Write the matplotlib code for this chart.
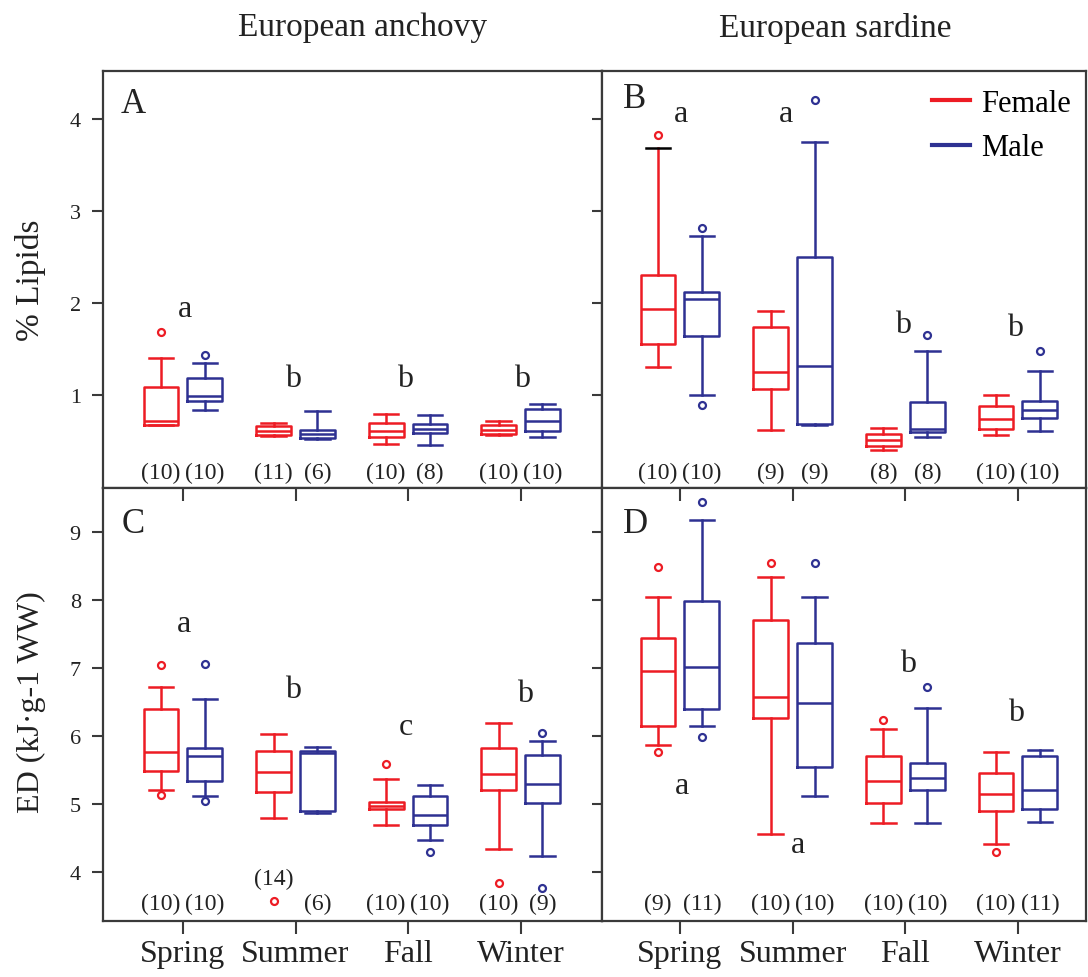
import numpy as np
import matplotlib
matplotlib.use('Agg')
import matplotlib.pyplot as plt
from matplotlib.lines import Line2D

plt.rcParams['font.family'] = ['Liberation Serif', 'DejaVu Serif']

# ---------------- data ----------------
seasons = ['Spring', 'Summer', 'Fall', 'Winter']

# five-number summaries per season: [whisker low, Q1, median, Q3, whisker high]
lipid_anchovy_female = [[0.67, 0.67, 0.72, 1.09, 1.40],
                        [0.55, 0.57, 0.61, 0.66, 0.70],
                        [0.47, 0.54, 0.61, 0.70, 0.79],
                        [0.56, 0.58, 0.62, 0.67, 0.72]]
lipid_anchovy_female_out = [[1.69], [], [], []]
lipid_anchovy_male = [[0.84, 0.93, 0.99, 1.18, 1.35],
                      [0.52, 0.53, 0.58, 0.62, 0.83],
                      [0.46, 0.59, 0.63, 0.68, 0.78],
                      [0.54, 0.61, 0.72, 0.85, 0.90]]
lipid_anchovy_male_out = [[1.43], [], [], []]

lipid_sardine_female = [[1.30, 1.555, 1.93, 2.30, 3.69],
                        [0.62, 1.06, 1.25, 1.74, 1.91],
                        [0.40, 0.45, 0.51, 0.58, 0.64],
                        [0.565, 0.63, 0.74, 0.88, 1.00]]
lipid_sardine_female_out = [[3.83], [], [], []]
lipid_sardine_male = [[1.00, 1.645, 2.04, 2.12, 2.73],
                      [0.67, 0.685, 1.31, 2.50, 3.75],
                      [0.54, 0.595, 0.63, 0.92, 1.48],
                      [0.61, 0.75, 0.84, 0.93, 1.26]]
lipid_sardine_male_out = [[2.82, 0.89], [4.21], [1.65], [1.48]]

ed_anchovy_female = [[5.20, 5.49, 5.77, 6.40, 6.72],
                     [4.79, 5.17, 5.47, 5.78, 6.03],
                     [4.69, 4.93, 4.97, 5.03, 5.37],
                     [4.34, 5.20, 5.44, 5.82, 6.19]]
ed_anchovy_female_out = [[7.04, 5.13], [3.58], [5.59], [3.84]]
ed_anchovy_male = [[5.12, 5.34, 5.70, 5.82, 6.55],
                   [4.87, 4.89, 5.75, 5.78, 5.84],
                   [4.47, 4.69, 4.84, 5.11, 5.28],
                   [4.24, 5.01, 5.30, 5.72, 5.92]]
ed_anchovy_male_out = [[7.06, 5.05], [], [4.30], [6.04, 3.77]]

ed_sardine_female = [[5.87, 6.14, 6.96, 7.44, 8.05],
                     [4.56, 6.27, 6.57, 7.70, 8.34],
                     [4.72, 5.01, 5.34, 5.71, 6.11],
                     [4.41, 4.89, 5.15, 5.45, 5.77]]
ed_sardine_female_out = [[8.48, 5.76], [8.54], [6.24], [4.29]]
ed_sardine_male = [[6.15, 6.40, 7.02, 7.99, 9.18],
                   [5.11, 5.55, 6.48, 7.37, 8.04],
                   [4.72, 5.21, 5.38, 5.60, 6.41],
                   [4.73, 4.92, 5.20, 5.70, 5.79]]
ed_sardine_male_out = [[9.44, 5.98], [8.54], [6.72], []]

# sample sizes
n_A_female = [10, 11, 10, 10]; n_A_male = [10, 6, 8, 10]
n_B_female = [10, 9, 8, 10];   n_B_male = [10, 9, 8, 10]
n_C_female = [10, 14, 10, 10]; n_C_male = [10, 6, 10, 9]
n_D_female = [9, 10, 10, 10];  n_D_male = [11, 10, 10, 11]

# significance letters and their heights
letters_A = ['a', 'b', 'b', 'b']; letters_A_y = [1.86, 1.10, 1.10, 1.10]
letters_B = ['a', 'a', 'b', 'b']; letters_B_y = [3.98, 3.98, 1.68, 1.65]
letters_C = ['a', 'b', 'c', 'b']; letters_C_y = [7.55, 6.57, 6.03, 6.51]
letters_D = ['a', 'a', 'b', 'b']; letters_D_y = [5.16, 4.29, 6.96, 6.23]

# ---------------- style / layout ----------------
RED = '#ED1C24'
BLUE = '#2E3192'
SPINE = '#3a3a3a'
LW = 1.8
OFF = 0.195
BOXW = 0.31
CAPW = 0.22

fig = plt.figure(figsize=(10.88, 9.78), dpi=100)
W, H = 1088.0, 978.0

def axes_px(x0, y0, x1, y1):
    return fig.add_axes([x0 / W, 1 - y1 / H, (x1 - x0) / W, (y1 - y0) / H])

axA = axes_px(103, 72, 602, 489)
axB = axes_px(602, 72, 1086, 489)
axC = axes_px(103, 489, 602, 922)
axD = axes_px(602, 489, 1086, 922)

top_ylim = (-0.011, 4.522)
bot_ylim = (3.279, 9.647)
left_xlim = (0.289, 4.724)
right_xlim = (0.308, 4.604)


def stats_from(summary, outliers):
    return [dict(whislo=s[0], q1=s[1], med=s[2], q3=s[3], whishi=s[4],
                 fliers=np.array(f)) for s, f in zip(summary, outliers)]


def draw_boxes(ax, summary, outliers, offset, color):
    pos = np.arange(1, len(summary) + 1) + offset
    props = dict(color=color, linewidth=LW)
    return ax.bxp(stats_from(summary, outliers), positions=pos, widths=BOXW,
                  capwidths=CAPW, manage_ticks=False,
                  boxprops=props, whiskerprops=props, capprops=props,
                  medianprops=props,
                  flierprops=dict(marker='o', markerfacecolor='none',
                                  markeredgecolor=color, markersize=5,
                                  markeredgewidth=1.6, linestyle='none'))


def panel(ax, fem, fem_out, mal, mal_out, nf, nm, n_y, letters, letters_y,
          letter_dx, tag, tag_xy, n_override=None):
    bf = draw_boxes(ax, fem, fem_out, -OFF, RED)
    bm = draw_boxes(ax, mal, mal_out, +OFF, BLUE)
    pos = np.arange(1, 5)
    for i in range(4):
        yf = n_y
        if n_override and i in n_override:
            yf = n_override[i]
        ax.text(pos[i] - OFF, yf, f'({nf[i]})', ha='center', va='baseline',
                fontsize=17, color='#222222')
        ax.text(pos[i] + OFF, n_y, f'({nm[i]})', ha='center', va='baseline',
                fontsize=17, color='#222222')
        ax.text(pos[i] + letter_dx[i], letters_y[i], letters[i], ha='center',
                va='baseline', fontsize=23, color='#222222')
    ax.text(tag_xy[0], tag_xy[1], tag, transform=ax.transAxes, ha='left',
            va='baseline', fontsize=25, color='#222222')
    for sp in ax.spines.values():
        sp.set_color(SPINE)
        sp.set_linewidth(1.6)
    return bf, bm


panel(axA, lipid_anchovy_female, lipid_anchovy_female_out,
      lipid_anchovy_male, lipid_anchovy_male_out, n_A_female, n_A_male, 0.10,
      letters_A, letters_A_y, [0.02, -0.02, -0.03, 0.01], 'A', (0.036, 0.902))
bfB, bmB = panel(axB, lipid_sardine_female, lipid_sardine_female_out,
                 lipid_sardine_male, lipid_sardine_male_out, n_B_female,
                 n_B_male, 0.10, letters_B, letters_B_y,
                 [0.01, -0.06, -0.02, -0.03], 'B', (0.043, 0.914))
panel(axC, ed_anchovy_female, ed_anchovy_female_out, ed_anchovy_male,
      ed_anchovy_male_out, n_C_female, n_C_male, 3.45, letters_C, letters_C_y,
      [0.01, -0.02, -0.02, 0.04], 'C', (0.037, 0.898), n_override={1: 3.82})
panel(axD, ed_sardine_female, ed_sardine_female_out, ed_sardine_male,
      ed_sardine_male_out, n_D_female, n_D_male, 3.45, letters_D, letters_D_y,
      [0.02, 0.05, 0.02, -0.02], 'D', (0.043, 0.898))

# the upper cap of the sardine spring female box is drawn black
bfB['caps'][1].set_color('black')

for ax in (axA, axC):
    ax.set_xlim(*left_xlim)
for ax in (axB, axD):
    ax.set_xlim(*right_xlim)
for ax in (axA, axB):
    ax.set_ylim(*top_ylim)
for ax in (axC, axD):
    ax.set_ylim(*bot_ylim)

# y ticks
axA.set_yticks([1, 2, 3, 4])
axC.set_yticks([4, 5, 6, 7, 8, 9])
for ax in (axA, axC):
    ax.tick_params(axis='y', which='both', left=True, right=False,
                   direction='out', length=8, width=1.5, color=SPINE,
                   labelsize=16, pad=8, labelcolor='#222222')
    # inward ticks on the shared inner edge
    sec = ax.secondary_yaxis('right')
    sec.set_yticks(ax.get_yticks())
    sec.tick_params(direction='in', length=7, width=1.5, color=SPINE,
                    labelright=False)
    sec.spines['right'].set_visible(False)
for ax in (axB, axD):
    ax.tick_params(axis='y', left=False, right=False, labelleft=False)

# x ticks
for ax in (axA, axB):
    ax.set_xticks([])
for ax in (axC, axD):
    ax.set_xticks(np.arange(1, 5))
    ax.set_xticklabels(seasons)
    ax.tick_params(axis='x', bottom=True, top=False, direction='out',
                   length=9, width=1.5, color=SPINE, labelsize=23, pad=4,
                   labelcolor='#222222')
    topax = ax.secondary_xaxis('top')
    topax.set_xticks(np.arange(1, 5))
    topax.tick_params(direction='in', length=9, width=1.5, color=SPINE,
                      labeltop=False)
    topax.spines['top'].set_visible(False)

# legend
handles = [Line2D([], [], color=RED, lw=3), Line2D([], [], color=BLUE, lw=3)]
axB.legend(handles, ['Female', 'Male'], loc='upper left',
           bbox_to_anchor=(0.682, 0.957), frameon=False, fontsize=22,
           handlelength=1.25, handletextpad=0.35, borderpad=0,
           borderaxespad=0, labelspacing=0.5)

# titles and axis labels
fig.text(363 / W, 1 - 28 / H, 'European anchovy', ha='center', va='center',
         fontsize=24, color='#222222')
fig.text(835 / W, 1 - 28 / H, 'European sardine', ha='center', va='center',
         fontsize=24, color='#222222')
fig.text(31 / W, 1 - 280 / H, '% Lipids', rotation=90, ha='center',
         va='center', fontsize=24, color='#222222')
fig.text(31 / W, 1 - 702 / H, 'ED (kJ\u00b7g-1 WW)', rotation=90, ha='center',
         va='center', fontsize=23, color='#222222')

fig.savefig('out.png', dpi=100)
